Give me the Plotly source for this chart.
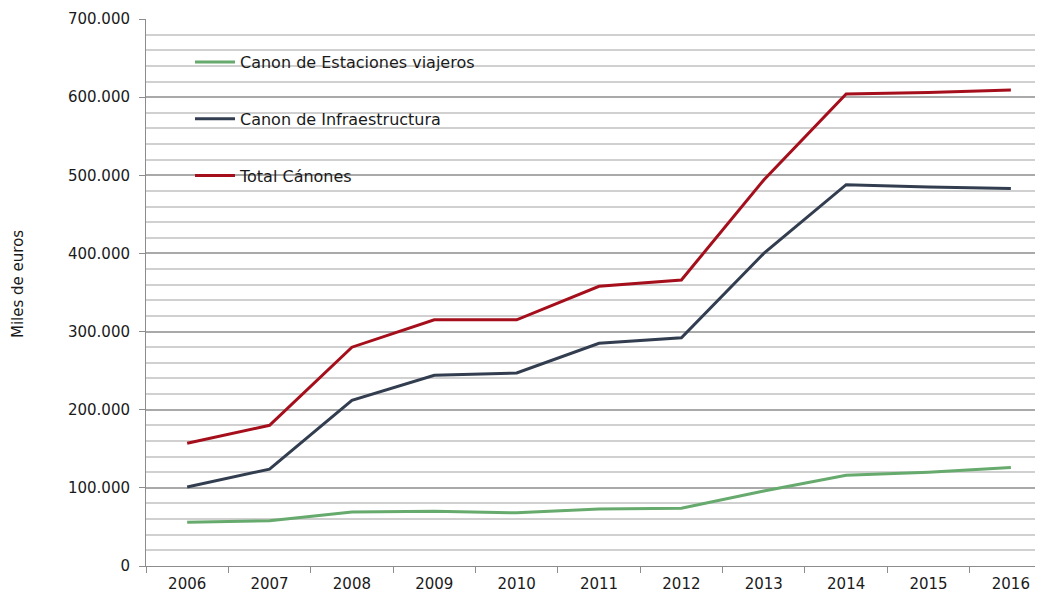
import plotly.graph_objects as go

years = ["2006", "2007", "2008", "2009", "2010", "2011", "2012", "2013", "2014", "2015", "2016"]
estaciones = [56000, 58000, 69000, 70000, 68000, 73000, 74000, 96000, 116000, 120000, 126000]
infraestructura = [101000, 124000, 212000, 244000, 247000, 285000, 292000, 400000, 488000, 485000, 483000]
total = [157000, 180000, 280000, 315000, 315000, 358000, 366000, 494000, 604000, 606000, 609000]

series_names = ["Canon de Estaciones viajeros", "Canon de Infraestructura", "Total Cánones"]
series_values = [estaciones, infraestructura, total]
series_colors = ["#67aa6d", "#323e50", "#a50f1c"]

ytick_vals = [0, 100000, 200000, 300000, 400000, 500000, 600000, 700000]
ytick_text = ["0", "100.000", "200.000", "300.000", "400.000", "500.000", "600.000", "700.000"]

FONT = "DejaVu Sans"
TXT = "#1a1a1a"

# page body has an 8px margin; plot area should sit at x 146..1043, y 19..566 in the window
W, H = 1035, 590
L, T, B = 138, 11, 32
PW = W - L
PH = H - T - B

fig = go.Figure()
for i, (name, vals, col) in enumerate(zip(series_names, series_values, series_colors)):
    fig.add_trace(go.Scatter(
        x=years, y=vals, name=name, mode="lines",
        line=dict(color=col, width=3),
        legendgroup=f"g{i}",
    ))

fig.update_layout(
    width=W, height=H,
    margin=dict(l=L, r=0, t=T, b=B, autoexpand=False),
    paper_bgcolor="white", plot_bgcolor="white",
    font=dict(family=FONT, size=15, color=TXT),
    showlegend=True,
    legend=dict(
        x=(190 - 146) / PW, y=(566 - 45) / PH, xanchor="left", yanchor="top",
        bgcolor="rgba(0,0,0,0)",
        font=dict(family=FONT, size=16, color=TXT),
        tracegroupgap=33,
        itemwidth=40,
    ),
    xaxis=dict(
        type="category",
        range=[-0.5, 10.39],
        showgrid=False,
        showline=True, linecolor="#8c8c8c", linewidth=1,
        ticks="outside", tickson="boundaries", ticklen=6, tickcolor="#8c8c8c",
        tickfont=dict(family=FONT, size=15, color=TXT),
        ticklabelstandoff=4,
    ),
    yaxis=dict(
        range=[0, 700000],
        tickmode="array", tickvals=ytick_vals, ticktext=ytick_text,
        showgrid=True, gridcolor="#a9a9a9", gridwidth=1.5,
        showline=True, linecolor="#8c8c8c", linewidth=1,
        ticks="outside", ticklen=6, tickcolor="#8c8c8c",
        tickfont=dict(family=FONT, size=15, color=TXT),
        ticklabelstandoff=6,
        zeroline=False,
        minor=dict(dtick=20000, tick0=0, showgrid=True, gridcolor="#d0d0d0", gridwidth=1.5, ticks=""),
    ),
    annotations=[dict(
        text="Miles de euros", textangle=-90,
        xref="paper", yref="paper",
        x=(18 - 146) / PW, y=(566 - 284) / PH,
        xanchor="center", yanchor="middle", showarrow=False,
        font=dict(family=FONT, size=15, color=TXT),
    )],
    shapes=[dict(
        type="rect", xref="paper", yref="paper",
        x0=(163 - 146) / PW, x1=(505 - 146) / PW,
        y0=(566 - 205) / PH, y1=(566 - 33) / PH,
        fillcolor="white", line=dict(width=0), layer="between",
    )],
)

fig.write_html("out.html")
